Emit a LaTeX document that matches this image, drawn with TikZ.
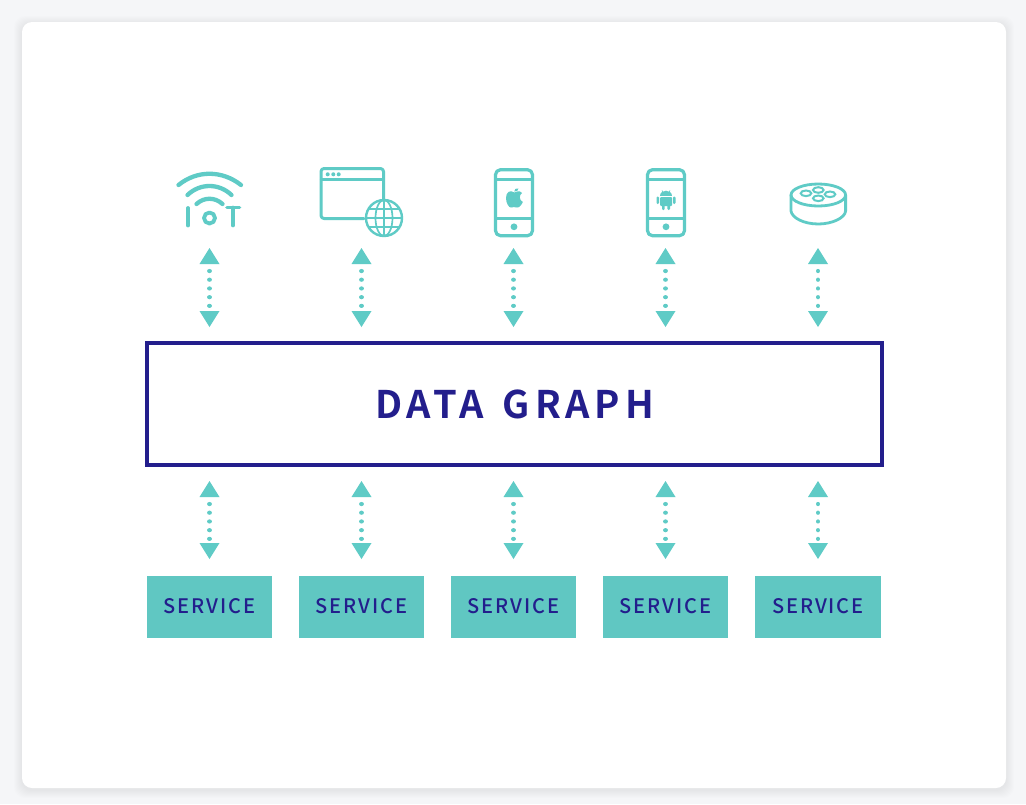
\documentclass[tikz,border=0pt]{standalone}
\usepackage{fontspec}
\setmainfont{Noto Sans}
\newfontfamily\lblfont[LetterSpace=9]{Noto Sans CJK JP Medium}
\newfontfamily\titlefont[LetterSpace=13]{Noto Sans CJK JP Bold}
\usetikzlibrary{arrows.meta}
\definecolor{pagebg}{HTML}{F5F6F8}
\definecolor{teal}{HTML}{5FCBC6}
\definecolor{boxteal}{HTML}{60C7C2}
\definecolor{navy}{HTML}{231E8C}
\tikzset{
  dbl/.style={draw=teal,line width=4.2pt,line cap=round,dash pattern=on 0.01pt off 8.7pt,dash phase=1.7pt,
    {Triangle[width=20pt,length=16pt,color=teal,line width=0pt,sep=0pt]}-{Triangle[width=20pt,length=16pt,color=teal,line width=0pt]}},
  icon/.style={draw=teal,line width=2.6pt,line cap=round,line join=round},
  thin icon/.style={draw=teal,line width=1.5pt},
  svc/.style={fill=boxteal,minimum width=125.5pt,minimum height=62pt,inner sep=0pt,text=navy,font=\lblfont\fontsize{20}{24}\selectfont},
  graphbox/.style={draw=navy,line width=4pt,fill=white,minimum width=735pt,minimum height=122pt,inner sep=0pt,text=navy},
}
\begin{document}
\begin{tikzpicture}[x=1pt,y=-1pt]
\useasboundingbox (0,0) rectangle (1026,804);
\fill[pagebg] (0,0) rectangle (1026,804);
\foreach \o in {8,7,...,1}
  \fill[black,opacity=.009,rounded corners=11pt] (22-\o,22-\o+2) rectangle (1006+\o,788+\o+2);
\fill[white,rounded corners=10pt] (22,22) rectangle (1006,788);

% central box
\node[graphbox] (graph) at (514,404) {};
\node[text=navy,font=\titlefont\fontsize{38}{44}\selectfont] (graphlabel) at (514.5,404.5) {DATA\hspace{5pt} GRAPH};

% services and arrows
\foreach \n/\x in {1/209.5,2/361.5,3/513.5,4/665.5,5/818}{
  \node[svc] (s\n) at (\x,607) {\raisebox{1.5pt}{SERVICE}};
  \coordinate (ta\n) at (\x,248);
  \coordinate (tb\n) at (\x,327);
  \coordinate (ba\n) at (\x,481);
  \coordinate (bb\n) at (\x,559);
  \draw[dbl] (ta\n) -- (tb\n);
  \draw[dbl] (ba\n) -- (bb\n);
}

% IoT
\draw[icon,line width=4.3pt] (178.5,185) .. controls (197,170) and (222,170) .. (241,185);
\draw[icon,line width=4.3pt] (187.5,195) .. controls (200,183) and (219,183) .. (231.5,195);
\draw[icon,line width=4.3pt] (196.5,204) .. controls (204,197) and (215,197) .. (222.5,204);
\draw[icon,line width=3.8pt] (188,208) -- (188,225.5);
\draw[icon,line width=3.8pt] (209.5,218) circle (5.5);
\draw[icon,line width=3.6pt] (227,207.5) -- (239.5,207.5) (233,207.5) -- (233,225.5);

% browser + globe
\draw[icon,line width=3pt,rounded corners=3pt] (383.5,199) -- (383.5,168.5) -- (321,168.5) -- (321,218.5) -- (364,218.5);
\draw[icon,line width=2.2pt] (321,179.5) -- (383.5,179.5);
\foreach \x in {327.7,333.3,338.7} \fill[teal] (\x,174.3) circle (2);
\draw[thin icon,line width=2.4pt] (384,218) circle (18);
\draw[thin icon,line width=1.7pt] (384,218) ellipse (8.5 and 18);
\draw[thin icon,line width=1.7pt] (384,200) -- (384,236);
\draw[thin icon,line width=1.7pt] (366,218) -- (402,218);
\draw[thin icon,line width=1.7pt] (369,209) -- (399,209);
\draw[thin icon,line width=1.7pt] (369,227) -- (399,227);

% phones
\foreach \c in {514,666}{
  \draw[icon,rounded corners=5pt,line width=3.2pt] (\c-18.5,169.7) rectangle (\c+18.5,235.7);
  \draw[icon,line width=2.6pt] (\c-18.5,179.5) -- (\c+18.5,179.5);
  \draw[icon,line width=2.6pt] (\c-18.5,218.5) -- (\c+18.5,218.5);
  \fill[teal] (\c,226.8) circle (3.4);
}
% apple
\fill[teal] (514.5,192.5) .. controls (510,189.5) and (506,192) .. (506,198)
  .. controls (506,203) and (509,208) .. (511,207.5)
  .. controls (512.5,207) and (515,207) .. (517,207.5)
  .. controls (519.5,208) and (522,204) .. (522.8,202)
  .. controls (519,200) and (519,195) .. (522,193)
  .. controls (519.5,190) and (516.5,191.5) .. (514.5,192.5) -- cycle;
\fill[teal] (514.2,191.5) .. controls (514.2,189) and (516,188) .. (518.5,188.5)
  .. controls (518.5,190.5) and (516.5,192) .. (514.2,191.5) -- cycle;
% android
\fill[teal] (660,196) .. controls (660,189) and (672,189) .. (672,196) -- cycle;
\fill[teal,rounded corners=1pt] (660,197) rectangle (672,206);
\fill[teal,rounded corners=1.2pt] (656.5,196.5) rectangle (659,204);
\fill[teal,rounded corners=1.2pt] (673,196.5) rectangle (675.5,204);
\fill[teal,rounded corners=1.2pt] (662,205) rectangle (664.7,210);
\fill[teal,rounded corners=1.2pt] (667.3,205) rectangle (670,210);
\draw[teal,line width=.7pt] (662,190.5) -- (663.3,192.5) (670,190.5) -- (668.7,192.5);

% puck
\draw[icon,line width=2.8pt] (818.3,195) ellipse (27.3 and 11);
\draw[icon,line width=2.8pt] (791,195) -- (791,211) .. controls (792,218) and (804,224) .. (818.3,224)
  .. controls (832,224) and (845,218) .. (845.6,211) -- (845.6,195);
\foreach \x/\y in {818.3/190,818.3/198.3,830/194.3,806/193.3}
  \draw[teal,line width=2pt] (\x,\y) ellipse (5.3 and 2.8);
\end{tikzpicture}
\end{document}
